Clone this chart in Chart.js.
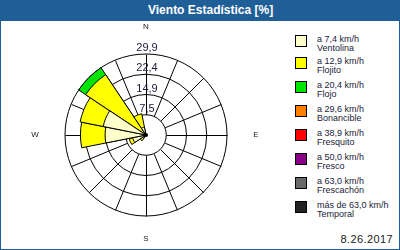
<!DOCTYPE html>
<html><head><meta charset="utf-8">
<script src="https://cdn.jsdelivr.net/npm/chart.js@4/dist/chart.umd.min.js"></script>
<style>
html,body{margin:0;padding:0;background:#fff;}
#frame{position:relative;width:400px;height:250px;overflow:hidden;background:#fff;font-family:"Liberation Sans",Arial,sans-serif;}
#title{position:absolute;left:0;top:0;width:400px;height:21px;background:#205E98;color:#fff;font-weight:bold;font-size:12px;line-height:21px;}
#title span{position:absolute;left:148px;top:0;}
.bl{position:absolute;background:#205E98;}
#chart{position:absolute;left:0;top:20px;}
.item{position:absolute;left:295px;}
.box{position:absolute;left:0;top:0;width:10px;height:10px;border:1px solid #000;}
.txt{position:absolute;left:22px;top:0;font-size:9px;line-height:9px;white-space:nowrap;color:#1a1a3a;}
#date{position:absolute;right:7px;top:234px;font-size:11px;line-height:11px;color:#222;letter-spacing:0.4px;}
</style>
</head><body>
<div id="frame">
  <div id="title"><span id="titleText"></span></div>
  <div class="bl" style="left:0;top:0;width:1px;height:250px"></div>
  <div class="bl" style="right:0;top:0;width:1px;height:250px"></div>
  <div class="bl" style="left:0;bottom:0;width:400px;height:1px"></div>
  <canvas id="chart" width="290" height="229"></canvas>
  <div id="legend"></div>
  <div id="date"></div>
</div>
<script>
const titleText = "Viento Estadística [%]";
const dateText = "8.26.2017";
const directions = ["N","NNE","NE","ENE","E","ESE","SE","SSE","S","SSW","SW","WSW","W","WNW","NW","NNW"];
const compassLabels = ["N","E","S","W"];
const speedLabels = ["a 7,4 km/h","a 12,9 km/h","a 20,4 km/h","a 29,6 km/h","a 38,9 km/h","a 50,0 km/h","a 63,0 km/h","más de 63,0 km/h"];
const speedNames = ["Ventolina","Flojito","Flojo","Bonancible","Fresquito","Fresco","Frescachón","Temporal"];
const speedColors = ["#FFFFCC","#FFFF00","#00E600","#FF8000","#FF0000","#880088","#696969","#222222"];
// per-direction percentages, order N, NNE, ... NNW
const ventolina  = [0,0,0,0,0,0,0,0,0,0,1.5,5.0,15.1,16.1,0,3.0];
const flojito    = [0,0,0,0,0,0,0,0,0,0,1.1,1.3,9.1,8.7,26.8,5.0];
const flojo      = [0,0,0,0,0,0,0,0,0,0,0,0,0,0,3.1,0];
const bonancible = [0,0,0,0,0,0,0,0,0,0,0,0,0,0,0,0];
const fresquito  = [0,0,0,0,0,0,0,0,0,0,0,0,0,0,0,0];
const fresco     = [0,0,0,0,0,0,0,0,0,0,0,0,0,0,0,0];
const frescachon = [0,0,0,0,0,0,0,0,0,0,0,0,0,0,0,0];
const temporal   = [0,0,0,0,0,0,0,0,0,0,0,0,0,0,0,0];
const rMax = 29.9;
const tickLabels = ["7,5","14,9","22,4","29,9"];

const series = [ventolina,flojito,flojo,bonancible,fresquito,fresco,frescachon,temporal];
const tickValues = [0].concat(tickLabels.map((_, i) => rMax * (i + 1) / tickLabels.length));

document.getElementById('titleText').textContent = titleText;
document.getElementById('date').textContent = dateText;

// legend
const rowTops = speedNames.map((_, i) => i === 0 ? 35 : 57 + 24 * (i - 1));
const legend = document.getElementById('legend');
speedNames.forEach((name, i) => {
  const it = document.createElement('div');
  it.className = 'item';
  it.style.top = rowTops[i] + 'px';
  const b = document.createElement('div');
  b.className = 'box';
  b.style.background = speedColors[i];
  const t = document.createElement('div');
  t.className = 'txt';
  const l1 = document.createElement('div'); l1.textContent = speedLabels[i];
  const l2 = document.createElement('div'); l2.textContent = name;
  t.appendChild(l1); t.appendChild(l2);
  it.appendChild(b); it.appendChild(t);
  legend.appendChild(it);
});

// cumulative stacks
const cumulative = series.map((s, k) => directions.map((_, i) => {
  let sum = 0; for (let j = 0; j <= k; j++) sum += series[j][i]; return sum;
}));

const datasets = series.map((s, k) => ({
  label: speedNames[k],
  data: cumulative[k],
  backgroundColor: ctx => s[ctx.dataIndex] > 0 ? speedColors[k] : 'rgba(0,0,0,0)',
  borderColor: ctx => s[ctx.dataIndex] > 0 ? '#000' : 'rgba(0,0,0,0)',
  borderWidth: ctx => s[ctx.dataIndex] > 0 ? 1 : 0,
  borderAlign: 'center'
}));

const overlay = {
  id: 'roseOverlay',
  beforeDatasetsDraw(chart) {
    const s = chart.scales.r, ctx = chart.ctx;
    const r0 = s.getDistanceFromCenterForValue(tickValues[1]);
    const r1 = s.getDistanceFromCenterForValue(rMax);
    ctx.save();
    ctx.strokeStyle = '#000'; ctx.lineWidth = 1;
    directions.forEach((d, k) => {
      const a = (k * 360 / directions.length - 90) * Math.PI / 180;
      ctx.beginPath();
      ctx.moveTo(s.xCenter + 0.5 + r0 * Math.cos(a), s.yCenter + 0.5 + r0 * Math.sin(a));
      ctx.lineTo(s.xCenter + 0.5 + r1 * Math.cos(a), s.yCenter + 0.5 + r1 * Math.sin(a));
      ctx.stroke();
    });
    ctx.restore();
  },
  afterDatasetsDraw(chart) {
    const s = chart.scales.r, ctx = chart.ctx;
    const r1 = s.getDistanceFromCenterForValue(rMax);
    ctx.save();
    ctx.fillStyle = '#000';
    ctx.beginPath(); ctx.arc(s.xCenter, s.yCenter, 2, 0, Math.PI * 2); ctx.fill();
    // tick labels
    ctx.fillStyle = '#1a1a3a';
    ctx.font = '11px "Liberation Sans", Arial, sans-serif';
    ctx.textAlign = 'center'; ctx.textBaseline = 'alphabetic';
    tickLabels.forEach((lab, i) => {
      const r = s.getDistanceFromCenterForValue(tickValues[i + 1]);
      ctx.fillText(lab, s.xCenter + 1, s.yCenter - r - 3);
    });
    // compass labels
    ctx.font = '8px "Liberation Sans", Arial, sans-serif';
    ctx.fillStyle = '#222';
    ctx.textBaseline = 'middle';
    const offs = [r1 + 27, r1 + 29, r1 + 23, r1 + 30];
    compassLabels.forEach((lab, i) => {
      const a = (i * 90 - 90) * Math.PI / 180;
      ctx.fillText(lab, s.xCenter + offs[i] * Math.cos(a), s.yCenter + offs[i] * Math.sin(a));
    });
    ctx.restore();
  }
};

new Chart(document.getElementById('chart'), {
  type: 'polarArea',
  data: { labels: directions, datasets },
  options: {
    responsive: false,
    animation: false,
    devicePixelRatio: 1,
    layout: { padding: { left: 65, right: 63, top: 34, bottom: 33 } },
    plugins: { legend: { display: false }, tooltip: { enabled: false } },
    scales: {
      r: {
        min: 0, max: rMax,
        startAngle: -180 / directions.length,
        ticks: { display: false },
        afterBuildTicks: sc => { sc.ticks = tickValues.map(v => ({ value: v })); },
        grid: { display: true, circular: true, color: '#000', lineWidth: 1 },
        angleLines: { display: false },
        pointLabels: { display: false }
      }
    }
  },
  plugins: [overlay]
});
</script>
</body></html>
